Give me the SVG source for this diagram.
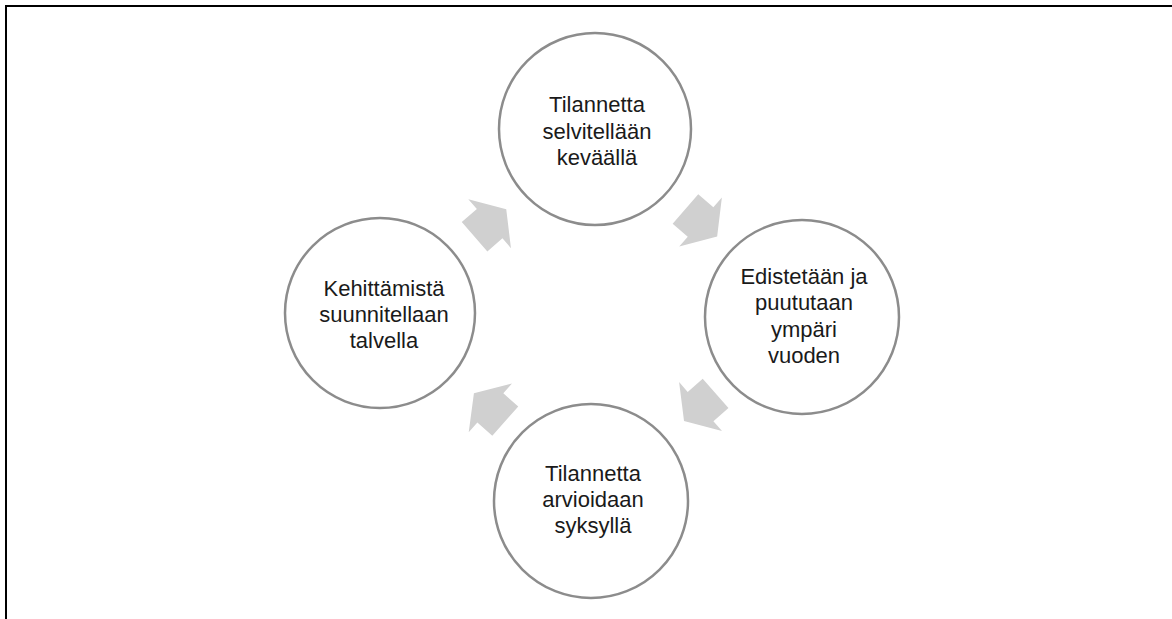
<svg xmlns="http://www.w3.org/2000/svg" width="1172" height="619" viewBox="0 0 1172 619">
<defs>
<style>
.node circle{fill:#ffffff;stroke:#8c8c8c;stroke-width:2.5}
.node text{font-family:"Liberation Sans",Arial,sans-serif;font-size:22px;fill:#1a1a1a;text-anchor:middle}
.arrow{fill:#d0d0d0}
.frame{stroke:#000000;stroke-width:2;fill:none}
</style>
<polygon id="arr" class="arrow" points="-21,-19.5 -1,-19.5 -1,-32.5 21,0 -1,32.5 -1,19.5 -21,19.5"/>
</defs>
<rect width="1172" height="619" fill="#ffffff"/>
<path class="frame" d="M6,619 V6 H1172"/>
<g id="connectors">
<use href="#arr" transform="translate(490.4,223) rotate(-41)"/>
<use href="#arr" transform="translate(701.3,222.7) rotate(41)"/>
<use href="#arr" transform="translate(699.8,407.2) rotate(138.7)"/>
<use href="#arr" transform="translate(489.6,407.2) rotate(-138.3)"/>
</g>
<g id="node-top" class="node">
<circle cx="595" cy="129" r="96"/>
<text x="597" y="112">Tilannetta</text>
<text x="597" y="138.5">selvitellään</text>
<text x="597" y="165">keväällä</text>
</g>
<g id="node-right" class="node">
<circle cx="802" cy="317" r="97"/>
<text x="804" y="284">Edistetään ja</text>
<text x="804" y="310.3">puututaan</text>
<text x="804" y="336.6">ympäri</text>
<text x="804" y="362.9">vuoden</text>
</g>
<g id="node-bottom" class="node">
<circle cx="591" cy="501" r="97"/>
<text x="593" y="480.5">Tilannetta</text>
<text x="593" y="506.5">arvioidaan</text>
<text x="593" y="532.5">syksyllä</text>
</g>
<g id="node-left" class="node">
<circle cx="380" cy="313" r="95"/>
<text x="384" y="295.5">Kehittämistä</text>
<text x="384" y="321.5">suunnitellaan</text>
<text x="384" y="347.5">talvella</text>
</g>
</svg>
